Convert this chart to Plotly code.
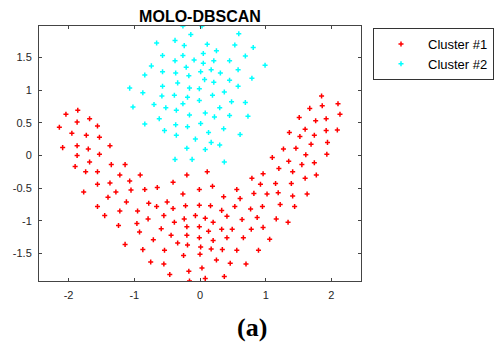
import plotly.graph_objects as go

# Cluster #1 (red)
c1_x = [-1.86, -2.04, -1.87, -1.68, -2.14, -1.56, -1.95, -1.73, -1.53, -2.09, -1.87, -1.70, -1.37,
        -1.53, -1.87, -1.68, -1.90, -1.35, -1.14, -1.74, -1.56, -1.22, -0.91, -1.07, -1.56, -1.37,
        -1.77, -1.28, -1.05, -0.84, -0.65, -0.41, -0.20, 0.11, 0.19, -0.01, -0.26, -1.40, -1.12,
        -0.78, -0.50, -0.66, -0.41, -0.22, -0.01, 0.16, 0.36, 0.56, 0.61, 0.33, 0.53, -1.56, -1.22,
        -1.45, -0.95, -0.55, -0.07, 0.08, -0.24, -0.39, -0.79, -1.24, -0.96, -0.92, -0.59, -0.20,
        -0.01, 0.20, 0.13, 0.33, 0.49, 0.41, 0.64, -0.20, -0.44, -0.71, -0.34, -0.19, -0.01, 0.20,
        0.41, 0.66, -1.14, -0.87, -0.54, 0.01, 0.17, 0.34, 0.56, -0.25, 0.00, -0.75, -0.55, 0.25,
        0.46, 0.70, -0.46, -0.17, 0.03, 0.08, 0.37, -0.16,
        1.85, 1.67, 1.86, 2.10, 1.51, 1.76, 1.92, 2.13, 1.36, 1.60, 1.52, 1.74, 1.92, 2.09, 1.69,
        1.94, 1.27, 1.46, 1.10, 1.93, 1.61, 1.35, 1.55, 1.74, 1.20, 1.41, 1.77, 0.96, 0.79, 1.60,
        0.92, 1.15, 1.39, 0.82, 1.02, 1.19, 1.41, 1.63, 1.22, 1.44, 0.77, 0.95, 0.87, 1.16, 1.34,
        0.78, 0.96, 1.06, 0.89]
c1_y = [0.69, 0.63, 0.51, 0.56, 0.43, 0.45, 0.34, 0.31, 0.28, 0.12, 0.15, 0.10, 0.15,
        0.02, 0.00, -0.10, -0.17, -0.14, -0.14, -0.25, -0.25, -0.30, -0.30, -0.39, -0.44, -0.42,
        -0.56, -0.56, -0.53, -0.52, -0.49, -0.41, -0.30, -0.25, -0.47, -0.52, -0.59, -0.64, -0.71,
        -0.73, -0.71, -0.78, -0.81, -0.77, -0.76, -0.77, -0.63, -0.52, -0.66, -0.84, -0.78, -0.78, -0.85,
        -0.92, -0.85, -0.92, -0.92, -0.96, -0.97, -1.02, -0.97, -1.07, -1.04, -1.17, -1.12, -1.09,
        -1.09, -1.02, -1.16, -1.13, -1.13, -0.93, -0.98, -1.22, -1.22, -1.29, -1.34, -1.37, -1.26, -1.30,
        -1.26, -1.26, -1.36, -1.44, -1.45, -1.40, -1.43, -1.44, -1.45, -1.53, -1.51, -1.63, -1.66, -1.60,
        -1.65, -1.66, -1.82, -1.77, -1.72, -1.88, -1.85, -1.92,
        0.91, 0.72, 0.76, 0.79, 0.58, 0.53, 0.56, 0.63, 0.35, 0.40, 0.29, 0.31, 0.38, 0.39, 0.17,
        0.20, 0.10, 0.11, -0.03, 0.02, 0.01, -0.09, -0.14, -0.11, -0.20, -0.25, -0.30, -0.28, -0.35, -0.35,
        -0.44, -0.43, -0.43, -0.58, -0.59, -0.57, -0.62, -0.59, -0.75, -0.78, -0.82, -0.78, -0.95, -0.97, -1.02,
        -1.13, -1.10, -1.28, -1.45]

# Cluster #2 (cyan)
c2_x = [-0.26, 0.03, -0.14, 0.59, -0.66, -0.38, -0.24, 0.11, 0.53, 0.81, 0.25, -0.57, -0.26, 0.05,
        0.69, -0.38, -0.09, 0.05, 0.21, 0.45, 0.99, -0.74, -0.21, -0.57, -0.37, -0.17, 0.01, 0.17,
        0.31, 0.58, -0.84, 0.79, -0.34, 0.07, 0.21, 0.45, -1.07, -0.57, -0.16, -0.01, 0.58, -0.87,
        0.37, -0.58, -0.39, -0.19, 0.19, -0.01, -0.26, 0.48, 0.69, -1.02, -0.70, -0.52, -0.36, 0.30,
        0.08, -0.16, 0.22, 0.45, 0.73, -0.62, -0.84, -0.37, -0.19, 0.01, -0.54, 0.36, -0.36, 0.13,
        0.61, -0.07, 0.17, 0.30, -0.20, 0.08, -0.38, -0.12, 0.37]
c2_y = [1.98, 1.98, 1.85, 1.86, 1.72, 1.76, 1.68, 1.70, 1.69, 1.65, 1.60, 1.53, 1.53, 1.56,
        1.52, 1.45, 1.46, 1.41, 1.45, 1.45, 1.38, 1.37, 1.35, 1.28, 1.26, 1.22, 1.28, 1.31,
        1.26, 1.31, 1.23, 1.18, 1.11, 1.16, 1.12, 1.15, 1.03, 1.06, 1.03, 1.02, 1.06, 0.96,
        0.97, 0.91, 0.92, 0.89, 0.92, 0.84, 0.79, 0.82, 0.81, 0.74, 0.78, 0.73, 0.69, 0.73,
        0.65, 0.62, 0.59, 0.61, 0.60, 0.56, 0.48, 0.47, 0.44, 0.49, 0.38, 0.41, 0.31, 0.35,
        0.32, 0.25, 0.20, 0.16, 0.11, 0.09, -0.06, -0.06, -0.10]

x_ticks = [-2, -1, 0, 1, 2]
x_ticktext = ["-2", "-1", "0", "1", "2"]
y_ticks = [-1.5, -1, -0.5, 0, 0.5, 1, 1.5]
y_ticktext = ["-1.5", "-1", "-0.5", "0", "0.5", "1", "1.5"]

fig = go.Figure()
fig.add_trace(go.Scatter(x=c1_x, y=c1_y, mode="markers", name="Cluster #1",
                         marker=dict(symbol="cross-thin", size=3.6, color="#ff0000",
                                     line=dict(color="#ff0000", width=1.5))))
fig.add_trace(go.Scatter(x=c2_x, y=c2_y, mode="markers", name="Cluster #2",
                         marker=dict(symbol="cross-thin", size=3.6, color="#00ffff",
                                     line=dict(color="#00ffff", width=1.5))))

axis_common = dict(showline=True, linecolor="#444444", linewidth=1, mirror="ticks",
                   ticks="inside", ticklen=3, tickwidth=1, tickcolor="#444444",
                   showgrid=False, zeroline=False,
                   tickfont=dict(family="Liberation Sans, Arial, sans-serif", size=11, color="#262626"))

fig.update_xaxes(range=[-2.45, 2.45], tickvals=x_ticks, ticktext=x_ticktext,
                 ticklabelstandoff=4, **axis_common)
fig.update_yaxes(range=[-1.92, 1.98], tickvals=y_ticks, ticktext=y_ticktext,
                 ticklabelstandoff=4, **axis_common)

fig.update_layout(
    width=494, height=347,
    margin=dict(l=39, r=133, t=26, b=66, autoexpand=False),
    paper_bgcolor="white", plot_bgcolor="white",
    title=dict(text="<b>MOLO-DBSCAN</b>", x=200 / 494, xanchor="center",
               yref="container", y=1 - 16 / 347, yanchor="middle",
               font=dict(family="Liberation Sans, Arial, sans-serif", size=16, color="black")),
    legend=dict(xref="container", x=373 / 494, xanchor="left",
                yref="container", y=1 - 28 / 347, yanchor="top",
                bordercolor="#333333", borderwidth=1, bgcolor="white",
                itemwidth=44, tracegroupgap=0,
                font=dict(family="Liberation Sans, Arial, sans-serif", size=13, color="black")),
    showlegend=True,
    annotations=[dict(text="<b>(a)</b>", xref="paper", yref="paper", x=(252 - 39) / 322,
                      y=(281 - 327) / 255,
                      xanchor="center", yanchor="middle", showarrow=False,
                      font=dict(family="Liberation Serif, Times New Roman, serif", size=26,
                                color="black"))],
)

fig.write_html("out.html")
